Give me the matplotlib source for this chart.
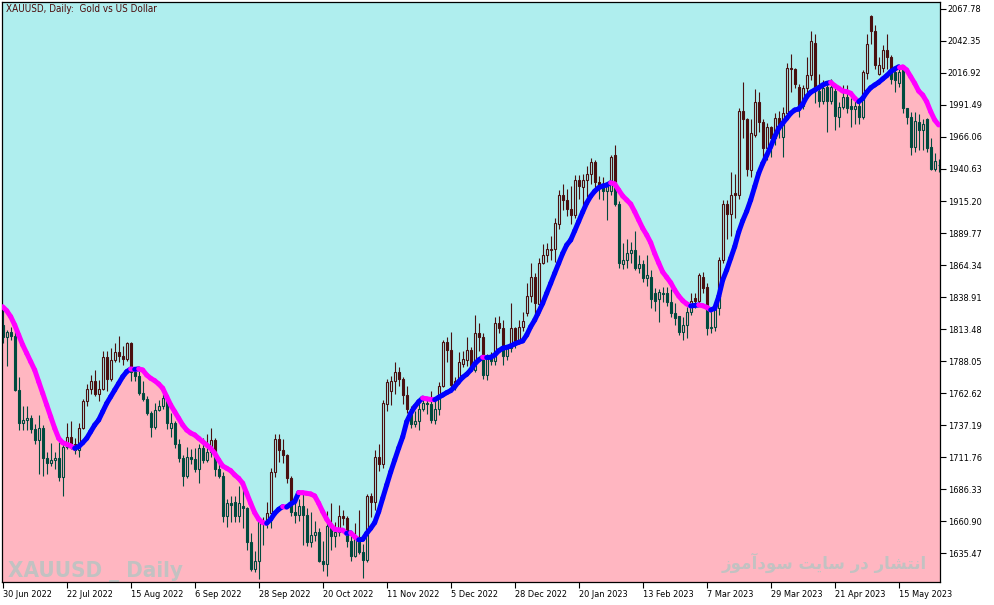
import numpy as np
import pandas as pd
import matplotlib
matplotlib.use("Agg")
import matplotlib.pyplot as plt
from matplotlib.collections import LineCollection

# daily XAUUSD bars, 30 Jun 2022 .. 29 May 2023
opens = [
    1817, 1807, 1811, 1808, 1765, 1739, 1741, 1743, 1734, 1725,
    1735, 1711, 1707, 1709, 1711, 1696, 1720, 1728, 1722, 1717,
    1735, 1756, 1766, 1772, 1762, 1766, 1791, 1774, 1789, 1795,
    1792, 1790, 1802, 1779, 1776, 1763, 1758, 1747, 1736, 1749,
    1752, 1759, 1735, 1739, 1722, 1711, 1697, 1712, 1710, 1702,
    1719, 1709, 1716, 1725, 1702, 1697, 1665, 1675, 1676, 1665,
    1673, 1671, 1644, 1623, 1629, 1660, 1662, 1667, 1700, 1726,
    1717, 1713, 1695, 1668, 1666, 1673, 1666, 1644, 1650, 1652,
    1629, 1627, 1657, 1649, 1652, 1665, 1663, 1645, 1633, 1648,
    1636, 1630, 1681, 1676, 1712, 1706, 1754, 1764, 1772, 1779,
    1774, 1761, 1750, 1738, 1740, 1750, 1755, 1754, 1741, 1750,
    1768, 1803, 1797, 1769, 1772, 1786, 1789, 1797, 1781, 1810,
    1807, 1777, 1792, 1788, 1818, 1814, 1792, 1798, 1814, 1804,
    1815, 1826, 1840, 1855, 1833, 1866, 1872, 1876, 1877, 1897,
    1920, 1916, 1909, 1904, 1932, 1926, 1932, 1937, 1946, 1930,
    1928, 1923, 1923, 1952, 1913, 1865, 1868, 1874, 1876, 1862,
    1865, 1854, 1855, 1842, 1837, 1842, 1842, 1835, 1826, 1824,
    1811, 1817, 1827, 1838, 1836, 1855, 1847, 1814, 1815, 1830,
    1868, 1913, 1905, 1921.5, 1920, 1987, 1980, 1940, 1968, 1994,
    1978, 1957, 1974, 1965, 1981, 1966, 1985, 2021, 2020, 2006,
    1991, 2005, 2015, 2041, 2003, 1995, 2006, 1995, 2003, 1982,
    1990, 1998, 1991, 1988, 1991, 1982, 2017, 2062, 2050, 2016,
    2021, 2035, 2030, 2018, 2009, 2019, 1989, 1982, 1958, 1978,
    1972, 1980, 1958, 1941, 1943.5,
]
highs = [
    1829, 1813, 1815, 1812, 1775, 1752, 1752, 1745, 1738, 1745,
    1737, 1716, 1723, 1716, 1724, 1722, 1739, 1740, 1727, 1739,
    1758, 1770, 1777, 1781, 1773, 1796, 1796, 1798, 1802, 1808,
    1800, 1803, 1803, 1782, 1780, 1772, 1760, 1748, 1755, 1757,
    1762, 1761, 1747, 1740, 1726, 1713, 1720, 1718, 1719, 1722,
    1727, 1730, 1735, 1727, 1707, 1700, 1678, 1681, 1681, 1689,
    1689, 1672, 1651, 1637, 1662, 1664, 1676, 1703, 1730, 1730,
    1726, 1714, 1697, 1676, 1678, 1682, 1671, 1668, 1661, 1655,
    1645, 1669, 1675, 1660, 1674, 1670, 1665, 1650, 1659, 1670,
    1643, 1682, 1683, 1717, 1722, 1757, 1774, 1776, 1787, 1783,
    1775, 1768, 1752, 1748, 1755, 1760, 1759, 1764, 1758, 1771,
    1805, 1807, 1811, 1775, 1795, 1796, 1807, 1799, 1825, 1818,
    1810, 1794, 1795, 1823, 1824, 1821, 1800, 1834, 1815, 1821,
    1827, 1850, 1866, 1858, 1870, 1881, 1882, 1887, 1902, 1924,
    1929, 1925, 1927, 1936, 1936, 1937, 1943, 1949, 1948, 1935,
    1934, 1930, 1952, 1960, 1915, 1882, 1885, 1883, 1891, 1872,
    1868, 1872, 1860, 1846, 1845, 1847, 1847, 1845, 1834, 1824,
    1823, 1831, 1842, 1842, 1858, 1859, 1850, 1831, 1834, 1871,
    1916, 1916, 1938, 1937, 1989, 2010, 1981, 1980, 2004, 2002,
    1980, 1977, 1975, 1985, 1987, 1990, 2025, 2032, 2021, 2008,
    2007, 2030, 2050, 2048, 2016, 2011, 2010, 2012, 2005, 1994,
    2007, 2007, 1997, 1997, 1993, 2019, 2048, 2063, 2055, 2030,
    2039, 2048, 2031, 2019, 2020, 2020, 1989, 1986, 1986, 1984,
    1980, 1981, 1965, 1953, 1948.5,
]
lows = [
    1802, 1784, 1805, 1764, 1733, 1733, 1733, 1731, 1722, 1698,
    1697, 1698, 1705, 1702, 1693, 1681, 1718, 1718, 1714, 1712,
    1734, 1752, 1762, 1760, 1756, 1765, 1764, 1772, 1787, 1787,
    1785, 1788, 1772, 1772, 1761, 1756, 1745, 1728, 1734, 1748,
    1750, 1734, 1728, 1719, 1708, 1689, 1695, 1706, 1700, 1691,
    1707, 1708, 1712, 1697, 1695, 1660, 1656, 1660, 1660, 1660,
    1655, 1638, 1621, 1620, 1615, 1642, 1655, 1655, 1696, 1708,
    1707, 1691, 1665, 1659, 1661, 1642, 1641, 1640, 1645, 1628,
    1621, 1617, 1638, 1640, 1649, 1658, 1640, 1629, 1632, 1635,
    1616, 1628, 1664, 1670, 1701, 1703, 1748, 1753, 1762, 1768,
    1754, 1747, 1735, 1736, 1733, 1748, 1746, 1739, 1738, 1745,
    1767, 1787, 1767, 1765, 1770, 1783, 1784, 1780, 1779, 1796,
    1774, 1773, 1785, 1785, 1810, 1785, 1789, 1795, 1798, 1802,
    1812, 1824, 1835, 1825, 1825, 1865, 1867, 1868, 1867, 1893,
    1908, 1903, 1897, 1902, 1917, 1911, 1918, 1929, 1925, 1917,
    1916, 1900, 1920, 1911, 1862, 1861, 1862, 1866, 1860, 1858,
    1851, 1848, 1830, 1828, 1819, 1835, 1832, 1823, 1817, 1809,
    1805, 1806, 1825, 1830, 1833, 1842, 1809, 1810, 1812, 1825,
    1866, 1885, 1887, 1902, 1917, 1965, 1935, 1934, 1966, 1970,
    1950, 1948, 1950, 1960, 1965, 1950, 1984, 2002, 2005, 1982,
    1988, 1999, 2011, 1993, 1990, 1992, 1970, 1992, 1972, 1974,
    1988, 1985, 1974, 1976, 1976, 1980, 2012, 2040, 2020, 2015,
    2018, 2020, 2008, 2002, 2006, 1985, 1976, 1952, 1954, 1956,
    1956, 1954, 1940, 1939, 1938.5,
]
closes = [
    1807, 1811, 1808, 1765, 1739, 1741, 1743, 1734, 1725, 1735,
    1711, 1707, 1709, 1711, 1696, 1720, 1728, 1722, 1717, 1735,
    1756, 1766, 1772, 1762, 1766, 1791, 1774, 1789, 1795, 1792,
    1790, 1802, 1779, 1776, 1763, 1758, 1747, 1736, 1749, 1752,
    1759, 1739, 1739, 1722, 1711, 1697, 1712, 1710, 1702, 1719,
    1709, 1716, 1725, 1702, 1697, 1665, 1675, 1674, 1665, 1675,
    1671, 1644, 1623, 1629, 1660, 1661, 1667, 1700, 1726, 1717,
    1713, 1695, 1668, 1666, 1673, 1666, 1644, 1650, 1652, 1629,
    1627, 1657, 1649, 1652, 1665, 1663, 1645, 1633, 1648, 1636,
    1630, 1681, 1676, 1712, 1706, 1755, 1771, 1772, 1779, 1774,
    1761, 1750, 1738, 1740, 1750, 1755, 1754, 1741, 1750, 1768,
    1803, 1797, 1769, 1772, 1787, 1790, 1797, 1781, 1810, 1807,
    1777, 1792, 1788, 1818, 1814, 1792, 1798, 1814, 1804, 1815,
    1820, 1840, 1855, 1834, 1866, 1872, 1877, 1877, 1898, 1920,
    1916, 1909, 1904, 1932, 1927, 1932, 1937, 1946, 1930, 1928,
    1923, 1928, 1950, 1913, 1866, 1868, 1874, 1876, 1862, 1865,
    1854, 1856, 1837, 1836, 1843, 1841, 1835, 1826, 1822, 1811,
    1817, 1827, 1836, 1836, 1856, 1846, 1814, 1815, 1831, 1868,
    1913, 1905, 1920, 1920, 1987, 1980, 1941, 1969, 1994, 1978,
    1957, 1974, 1965, 1981, 1975.6, 1985, 2021, 2020, 2008, 1991,
    2005, 2015, 2042, 2005, 1995, 2005, 1995, 2006, 1983, 1990,
    1998, 1989, 1988, 1991, 1982, 2018, 2040, 2050, 2023, 2023,
    2035, 2030, 2012, 2011, 2018, 1989, 1982, 1958, 1979, 1972,
    1976, 1957, 1941, 1947, 1944,
]
# moving average line drawn on the chart
ma = [
    1831.2, 1828.0, 1823.3, 1816.7, 1808.7, 1800.8, 1794.2, 1787.5, 1780.9, 1771.6,
    1762.4, 1753.1, 1743.8, 1734.6, 1726.6, 1723.1, 1721.9, 1720.5, 1718.7, 1720.0,
    1723.1, 1726.6, 1731.9, 1737.2, 1741.2, 1747.8, 1754.4, 1759.7, 1765.0, 1770.3,
    1775.6, 1779.6, 1781.7, 1781.4, 1781.8, 1780.9, 1776.9, 1774.3, 1772.4, 1769.8,
    1766.4, 1759.7, 1753.1, 1747.8, 1742.5, 1737.2, 1733.2, 1730.8, 1729.3, 1726.6,
    1723.9, 1721.3, 1718.7, 1714.7, 1709.4, 1704.6, 1702.8, 1700.9, 1697.5, 1694.8,
    1690.9, 1682.9, 1675.0, 1667.5, 1662.3, 1659.6, 1659.1, 1662.3, 1667.0, 1670.2,
    1672.3, 1672.0, 1674.4, 1676.3, 1683.5, 1683.4, 1682.9, 1682.4, 1680.8, 1675.0,
    1668.3, 1662.3, 1657.7, 1654.3, 1653.8, 1653.6, 1651.1, 1651.5, 1648.4, 1646.0,
    1646.3, 1651.1, 1655.1, 1659.6, 1668.3, 1679.0, 1689.5, 1699.9, 1709.4, 1718.9,
    1727.7, 1739.8, 1746.5, 1751.7, 1755.7, 1758.6, 1758.0, 1757.5, 1757.3, 1759.2,
    1761.0, 1762.9, 1764.5, 1767.6, 1771.6, 1775.1, 1777.5, 1780.9, 1785.7, 1788.9,
    1791.0, 1790.8, 1791.0, 1792.8, 1796.2, 1798.2, 1798.9, 1800.0, 1801.6, 1802.9,
    1804.0, 1808.7, 1815.3, 1820.6, 1827.2, 1833.9, 1841.9, 1849.8, 1857.8, 1865.7,
    1873.6, 1880.2, 1884.2, 1891.5, 1899.0, 1906.5, 1913.6, 1919.0, 1923.0, 1925.8,
    1927.1, 1927.9, 1929.7, 1928.7, 1923.9, 1919.2, 1916.0, 1912.8, 1906.7, 1900.1,
    1893.5, 1888.2, 1882.1, 1873.5, 1866.0, 1858.8, 1854.6, 1850.3, 1844.5, 1839.7,
    1836.0, 1833.4, 1831.8, 1832.2, 1832.6, 1832.0, 1830.7, 1828.6, 1829.9, 1839.2,
    1852.4, 1860.4, 1869.7, 1878.9, 1890.5, 1899.5, 1907.0, 1916.0, 1926.6, 1937.2,
    1945.0, 1951.5, 1958.4, 1966.3, 1973.0, 1977.0, 1980.9, 1984.9, 1987.5, 1988.3,
    1992.1, 1998.1, 2001.6, 2003.4, 2005.2, 2007.4, 2008.7, 2009.5, 2006.8, 2004.8,
    2002.6, 2002.1, 2000.8, 1996.8, 1994.1, 1996.8, 2001.6, 2005.2, 2007.4, 2009.5,
    2012.2, 2014.8, 2018.0, 2020.1, 2021.9, 2021.9, 2019.3, 2014.0, 2008.7, 2002.6,
    1999.4, 1994.1, 1986.2, 1979.6, 1975.6,
]

price_ticks = [1635.47, 1660.90, 1686.33, 1711.76, 1737.19, 1762.62, 1788.05,
               1813.48, 1838.91, 1864.34, 1889.77, 1915.20, 1940.63, 1966.06,
               1991.49, 2016.92, 2042.35, 2067.78]
date_labels = ["30 Jun 2022", "22 Jul 2022", "15 Aug 2022", "6 Sep 2022",
               "28 Sep 2022", "20 Oct 2022", "11 Nov 2022", "5 Dec 2022",
               "28 Dec 2022", "20 Jan 2023", "13 Feb 2023", "7 Mar 2023",
               "29 Mar 2023", "21 Apr 2023", "15 May 2023"]
skipped_days = ["2022-12-26", "2023-01-02", "2023-04-07"]

RED = "#4a1010"
GREEN = "#004a3e"
CYAN = "#afeeee"
PINK = "#ffb6c1"
MARK = "#c2c2c2"

# narrow face if it is there, plain DejaVu otherwise
plt.rcParams["font.family"] = ["DejaVu Sans"]
plt.rcParams["font.stretch"] = "condensed"

o = np.array(opens, float)
h = np.array(highs, float)
l = np.array(lows, float)
c = np.array(closes, float)
m = np.array(ma, float)
x = np.arange(len(c))

# bars sit on broker trading days, tick labels point at those days
days = pd.bdate_range("2022-06-30", "2023-05-29")
days = days[~days.isin(pd.to_datetime(skipped_days))]
tick_pos = [days.get_loc(d) for d in pd.to_datetime(date_labels, format="%d %b %Y")]

W, H = 994, 605
fig = plt.figure(figsize=(W / 100, H / 100), dpi=100)
ax = fig.add_axes([2 / W, 23 / H, 938 / W, 580 / H])
y_lo, y_hi = 1612.43, 2073.34
ax.set_xlim(-0.175, len(c) - 0.675)
ax.set_ylim(y_lo, y_hi)

# areas above / below the MA
xf = np.r_[-1, x, len(c)]
mf = np.r_[m[0], m, m[-1]]
upper = ax.fill_between(xf, mf, y_hi + 50, color=CYAN, lw=0, zorder=0)
lower = ax.fill_between(xf, y_lo - 50, mf, color=PINK, lw=0, zorder=0)

# candles: dark red where they sit on the cyan area, dark green on the pink one
body_lo = np.minimum(o, c)
body_hi = np.maximum(o, c)
bull = c > o
for col, region in ((RED, upper), (GREEN, lower)):
    clip = region.get_paths()[0]
    parts = [ax.vlines(x, l, body_lo, colors=col, lw=0.8, zorder=2),
             ax.vlines(x, body_hi, h, colors=col, lw=0.8, zorder=2)]
    bars = ax.bar(x, body_hi - body_lo, bottom=body_lo, width=0.5,
                  facecolor=["none" if b else col for b in bull],
                  edgecolor=col, lw=0.8, zorder=2)
    parts += list(bars)
    for p in parts:
        p.set_clip_path(clip, ax.transData)

# MA line, blue while rising, magenta while falling
pts = np.column_stack([x, m])
segs = np.stack([pts[:-1], pts[1:]], axis=1)
seg_cols = ["#0000ff" if d > 0 else "#ff00ff" for d in np.diff(m)]
ax.add_collection(LineCollection(segs, colors=seg_cols, linewidths=3.6,
                                 capstyle="round", zorder=3))

# axes
ax.yaxis.tick_right()
ax.set_yticks(price_ticks, labels=[f"{p:.2f}" for p in price_ticks])
ax.set_xticks(tick_pos, labels=date_labels)
for lbl in ax.get_xticklabels():
    lbl.set_horizontalalignment("left")
ax.tick_params(length=4, width=0.8, labelsize=6.6, pad=1.5, colors="black")
for s in ax.spines.values():
    s.set_linewidth(0.9)

# header and watermarks
fig.text(6 / W, 1 - 9 / H, "XAUUSD, Daily:  Gold vs US Dollar",
         fontsize=7.1, color="#4b0a0a", va="center")
ax.text(8 / W, 1 - 577 / H, "XAUUSD _ Daily", transform=fig.transFigure,
        fontsize=16, fontweight="bold", color=MARK, va="baseline", zorder=1)
# "انتشار در سایت سودآموز" written in shaped (presentation) forms, visual order
persian = ("\ufeaf\ufeee\ufee3\ufe81\ufea9\ufeee\ufeb3 \ufe96\ufbfe\ufe8e\ufeb3 "
           "\ufead\ufea9 \ufead\ufe8e\ufeb8\ufe98\ufee7\ufe8d")
ax.text(927 / W, 1 - 569 / H, persian, transform=fig.transFigure,
        family=["DejaVu Sans"], fontsize=12, fontweight="bold",
        fontstretch="normal", color=MARK, ha="right", va="baseline", zorder=1)

fig.savefig("out.png", dpi=100, facecolor="white")
